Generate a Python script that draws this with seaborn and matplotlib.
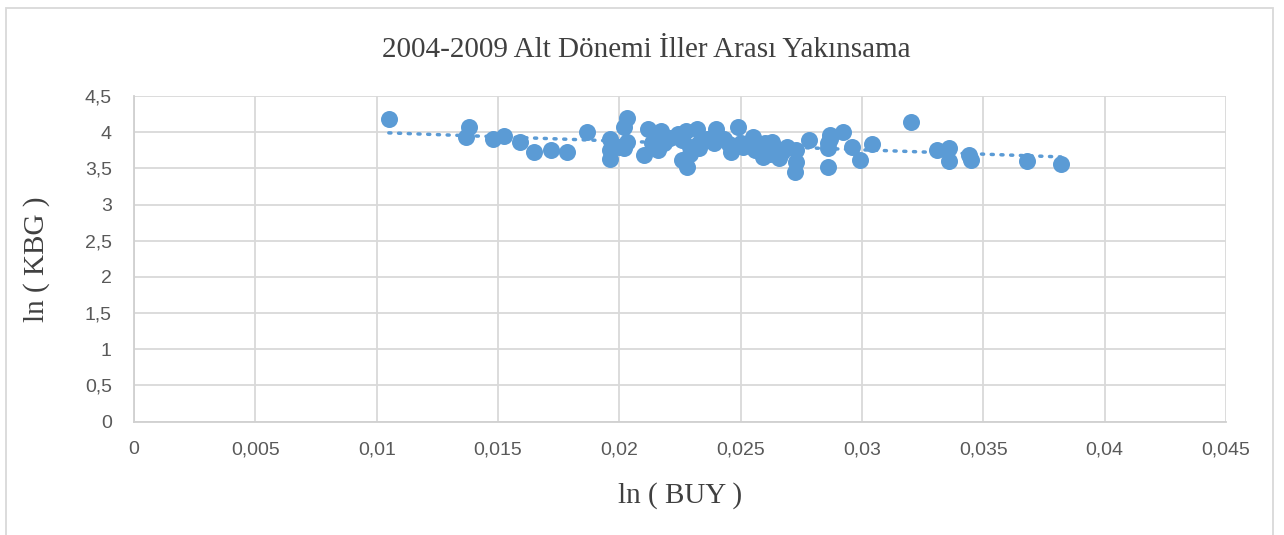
import matplotlib
matplotlib.use('Agg')
import matplotlib.pyplot as plt
from matplotlib.ticker import FuncFormatter, MultipleLocator
from matplotlib.patches import Rectangle
import seaborn as sns
import pandas as pd
import numpy as np

# values
buy = [0.0105, 0.0138, 0.0137, 0.0148, 0.01525, 0.0159, 0.0165, 0.0172, 0.01785, 0.01867,
       0.0203, 0.0202, 0.0196, 0.0196, 0.0196, 0.0200, 0.0203, 0.0212, 0.0210, 0.0217,
       0.0216, 0.02135, 0.02185, 0.0224, 0.02275, 0.0232, 0.0226, 0.0226, 0.0228, 0.0229,
       0.0233, 0.0240, 0.0239, 0.0243, 0.0246, 0.0249, 0.0250, 0.0255, 0.0256, 0.0259,
       0.0260, 0.0263, 0.0266, 0.0269, 0.0273, 0.02725, 0.0273, 0.0278, 0.0287, 0.0286,
       0.0286, 0.0292, 0.0296, 0.0299, 0.0304, 0.0320, 0.0331, 0.0336, 0.0336, 0.0344,
       0.0345, 0.0368, 0.0382, 0.0229, 0.0236, 0.0233, 0.0245, 0.0262, 0.0264, 0.0267,
       0.0286, 0.0287, 0.0251, 0.0221, 0.0226, 0.0202]
kbg = [4.18, 4.07, 3.93, 3.90, 3.95, 3.86, 3.72, 3.75, 3.72, 4.00,
       4.20, 4.07, 3.91, 3.75, 3.63, 3.80, 3.86, 4.05, 3.68, 4.01,
       3.75, 3.85, 3.85, 3.98, 4.02, 4.04, 3.89, 3.61, 3.52, 3.80,
       3.85, 4.04, 3.85, 3.91, 3.73, 4.07, 3.85, 3.94, 3.75, 3.66,
       3.85, 3.87, 3.64, 3.80, 3.59, 3.45, 3.75, 3.89, 3.96, 3.52,
       3.78, 4.00, 3.80, 3.61, 3.83, 4.14, 3.76, 3.78, 3.60, 3.69,
       3.61, 3.60, 3.56, 3.70, 3.90, 3.78, 3.83, 3.70, 3.78, 3.72,
       3.85, 3.90, 3.80, 3.92, 3.95, 3.78]

df = pd.DataFrame({'buy': buy, 'kbg': kbg})

sns.set_style('white')
plt.rcParams['font.family'] = ['Liberation Sans', 'DejaVu Sans']

fig = plt.figure(figsize=(12.84, 5.35), dpi=100)
ax = fig.add_axes([0.1044, 0.2118, 0.8504, 0.6088])

blue = '#5B9BD5'
sns.regplot(data=df, x='buy', y='kbg', ax=ax, ci=None, truncate=True,
            scatter_kws={'s': 150, 'color': blue, 'alpha': 1, 'linewidths': 0, 'zorder': 3},
            line_kws={'color': blue, 'ls': (0, (0.6, 2.2)), 'lw': 2.5,
                      'dash_capstyle': 'round', 'zorder': 2})

ax.set_xlim(0, 0.045)
ax.set_ylim(0, 4.5)
ax.xaxis.set_major_locator(MultipleLocator(0.005))
ax.yaxis.set_major_locator(MultipleLocator(0.5))

def comma(v, pos):
    s = ('%.3f' % v).rstrip('0').rstrip('.')
    return s.replace('.', ',')

ax.xaxis.set_major_formatter(FuncFormatter(comma))
ax.yaxis.set_major_formatter(FuncFormatter(comma))
ax.grid(True, color='#D9D9D9', lw=1.3)
ax.set_axisbelow(True)
for side in ['top', 'right']:
    ax.spines[side].set_visible(False)
for side in ['left', 'bottom']:
    ax.spines[side].set_color('#D0D0D0')
    ax.spines[side].set_linewidth(1.3)
ax.tick_params(length=0, labelsize=14, colors='#595959')
ax.tick_params(axis='y', pad=16)
ax.tick_params(axis='x', pad=14)

serif = ['Liberation Serif', 'DejaVu Serif']
ax.set_xlabel('ln ( BUY )', family=serif, fontsize=21, color='#404040')
ax.set_ylabel('ln ( KBG )', family=serif, fontsize=21, color='#404040')
ax.xaxis.set_label_coords(0.5, -0.226)
ax.yaxis.set_label_coords(-0.089, 0.5)
ax.xaxis.label.set_va('center')
ax.yaxis.label.set_va('center')
fig.text(0.5035, 0.906, '2004-2009 Alt Dönemi İller Arası Yakınsama', family=serif,
         fontsize=21, color='#404040', ha='center', va='center')

fig.patches.append(Rectangle((6 / 1284, -0.05), 1267 / 1284, 1.05 - 8 / 535,
                             transform=fig.transFigure, fill=False,
                             edgecolor='#D9D9D9', lw=1.3))

fig.savefig('out.png', dpi=100)
